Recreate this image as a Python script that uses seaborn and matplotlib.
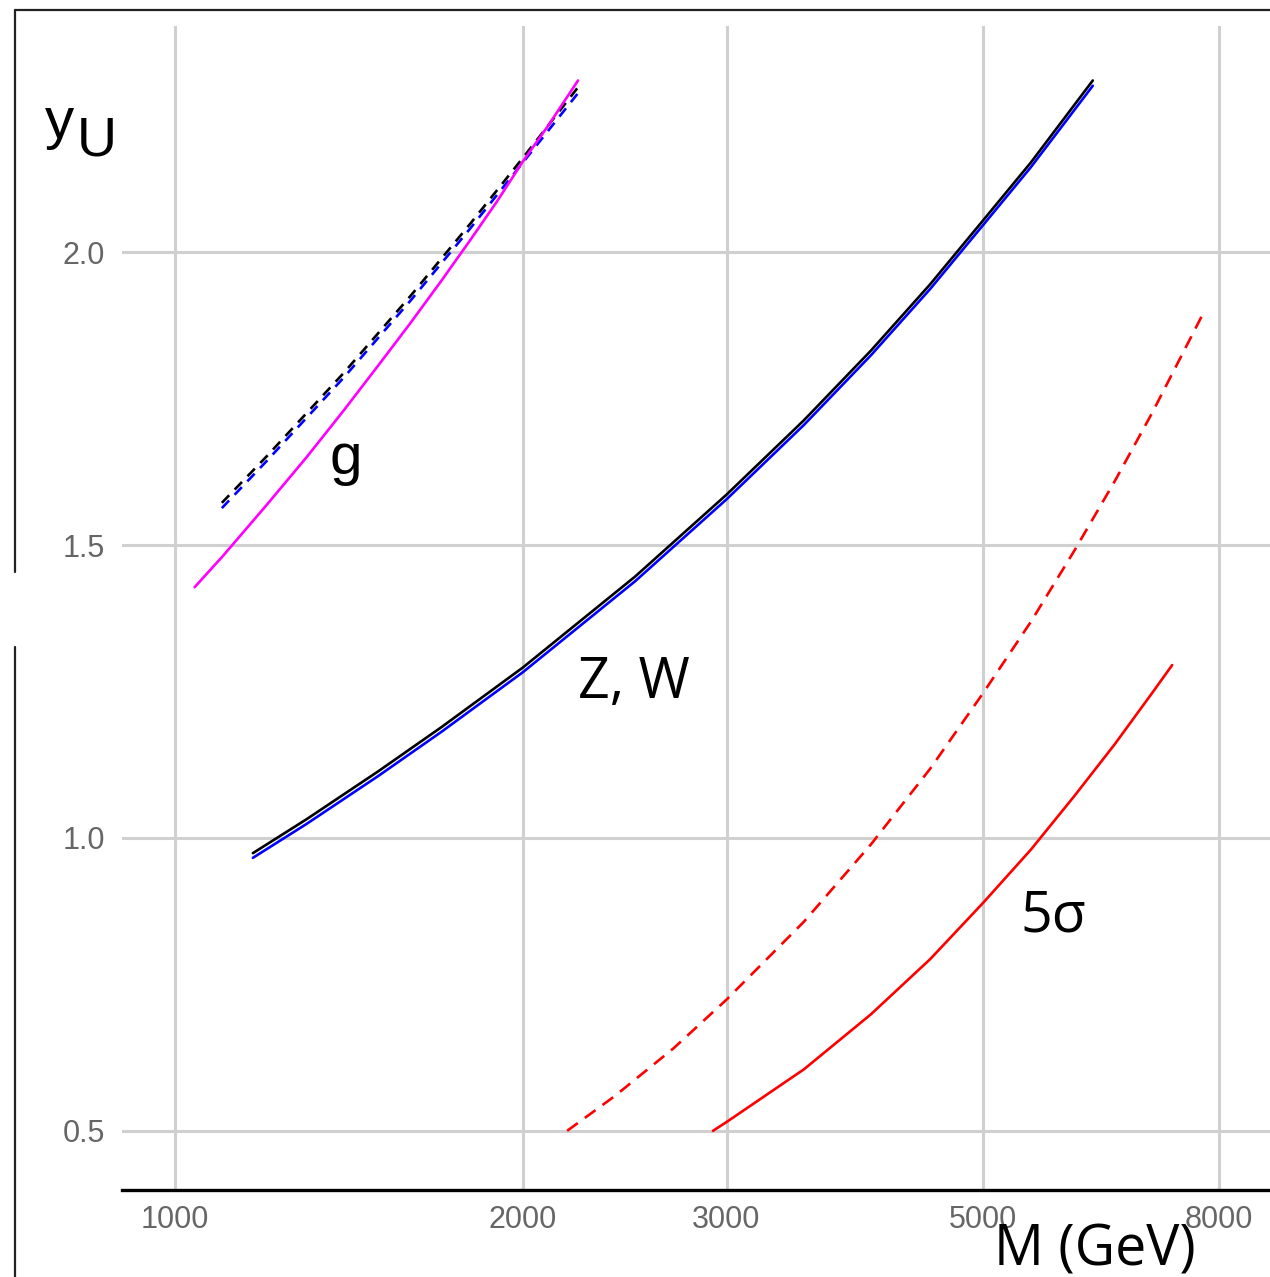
import numpy as np
import pandas as pd
import matplotlib
matplotlib.use("Agg")
import matplotlib.pyplot as plt
import seaborn as sns
from matplotlib.lines import Line2D

# --- values (M in GeV, y_U) ---
# Z, W curves (solid black and solid blue)
zw_mass = [1168, 1300, 1500, 1700, 2000, 2500, 3000, 3500, 4000, 4500, 5000, 5500, 6222]
zw_black = [0.974, 1.032, 1.114, 1.189, 1.291, 1.446, 1.586, 1.713, 1.832, 1.945, 2.054, 2.153, 2.293]
zw_blue = [0.966, 1.024, 1.106, 1.181, 1.283, 1.438, 1.578, 1.705, 1.824, 1.937, 2.046, 2.145, 2.284]

# gluon curves: dashed black / dashed blue, solid magenta
g_mass_dash = [1098, 1200, 1400, 1600, 1800, 2000, 2229]
g_black = [1.572, 1.651, 1.794, 1.926, 2.048, 2.161, 2.280]
g_blue = [1.563, 1.643, 1.786, 1.918, 2.040, 2.153, 2.270]
g_mass_mag = [1040, 1100, 1200, 1300, 1400, 1500, 1600, 1700, 1800, 1900, 2000, 2100, 2232]
g_magenta = [1.428, 1.481, 1.568, 1.650, 1.730, 1.807, 1.880, 1.951, 2.020, 2.087, 2.155, 2.214, 2.293]

# 5 sigma curves (red dashed / red solid)
red_dash_mass = [2184, 2400, 2700, 3000, 3500, 4000, 4500, 5000, 5500, 6000, 6500, 7000, 7745]
red_dash = [0.500, 0.559, 0.641, 0.724, 0.857, 0.989, 1.118, 1.247, 1.369, 1.491, 1.609, 1.725, 1.894]
red_mass = [2920, 3000, 3500, 4000, 4500, 5000, 5500, 6000, 6500, 7000, 7287]
red_solid = [0.500, 0.515, 0.605, 0.699, 0.793, 0.889, 0.980, 1.072, 1.160, 1.247, 1.295]

x_ticks = [1000, 2000, 3000, 5000, 8000]
y_ticks = [0.5, 1.0, 1.5, 2.0]

sns.set_theme(style="whitegrid")
plt.rcParams['font.family'] = ['Liberation Sans', 'DejaVu Sans']

fig = plt.figure(figsize=(12.7, 12.77), dpi=100)
ax = fig.add_axes([122 / 1270, 87 / 1277, 1148 / 1270, 1164 / 1277])

dash = (5, 3.3)
sns.lineplot(x=zw_mass, y=zw_blue, color='#0000ff', lw=1.9, ax=ax)
sns.lineplot(x=zw_mass, y=zw_black, color='black', lw=1.9, ax=ax)
sns.lineplot(x=g_mass_dash, y=g_blue, color='#0000ff', lw=1.9, ax=ax).lines[-1].set_dashes((4, 3))
sns.lineplot(x=g_mass_dash, y=g_black, color='black', lw=1.9, ax=ax).lines[-1].set_dashes((4, 3))
sns.lineplot(x=g_mass_mag, y=g_magenta, color='#ff00ff', lw=1.9, ax=ax)
sns.lineplot(x=red_dash_mass, y=red_dash, color='#ff0000', lw=1.9, ax=ax).lines[-1].set_dashes(dash)
sns.lineplot(x=red_mass, y=red_solid, color='#ff0000', lw=1.9, ax=ax)

ax.set_xscale('log')
ax.set_xlim(900, 8855)
ax.set_ylim(0.399, 2.386)
ax.set_xticks(x_ticks)
ax.set_xticklabels([str(t) for t in x_ticks])
ax.xaxis.set_minor_locator(matplotlib.ticker.NullLocator())
ax.set_yticks(y_ticks)
ax.set_yticklabels([f"{t:.1f}" for t in y_ticks])
ax.tick_params(axis='both', length=0, labelsize=22, colors='#666666')
ax.tick_params(axis='x', pad=11)
ax.tick_params(axis='y', pad=12)
ax.grid(True, color='#d0d0d0', lw=2.2)
ax.set_facecolor('white')
for side in ['top', 'right', 'left']:
    ax.spines[side].set_visible(False)
ax.spines['bottom'].set_visible(True)
ax.spines['bottom'].set_color('black')
ax.spines['bottom'].set_linewidth(2.4)
ax.set_xlabel('')
ax.set_ylabel('')

# curve labels
ax.text(1406, 1.621, 'g', fontsize=42, color='black',
        family=['Liberation Sans', 'DejaVu Sans'], ha='center', va='baseline')
ax.text(2495, 1.239, 'Z, W', fontsize=40, color='black',
        family=['Open Sans', 'DejaVu Sans'], ha='center', va='baseline')
ax.text(5750, 0.84, '5σ', fontsize=40, color='black',
        family=['Open Sans', 'DejaVu Sans'], ha='center', va='baseline')

# axis titles placed in figure pixels
fig.text(45 / 1270, 1 - 138 / 1277, 'y', fontsize=42, color='black',
         family=['Liberation Sans', 'DejaVu Sans'], va='baseline')
fig.text(77 / 1270, 1 - 155 / 1277, 'U', fontsize=40, color='black',
         family=['Liberation Sans', 'DejaVu Sans'], va='baseline')
fig.text(1095 / 1270, 1 - 1266 / 1277, 'M (GeV)', fontsize=40, color='black',
         family=['Open Sans', 'DejaVu Sans'], ha='center', va='baseline')

# screenshot frame
fx = 15 / 1270
fig.add_artist(Line2D([fx, 1], [1 - 10 / 1277] * 2, color='#222222', lw=1.6))
fig.add_artist(Line2D([fx, fx], [1 - 10 / 1277, 1 - 572 / 1277], color='#222222', lw=1.6))
fig.add_artist(Line2D([fx, fx], [1 - 647 / 1277, 0], color='#222222', lw=1.6))

fig.savefig('out.png', dpi=100)
